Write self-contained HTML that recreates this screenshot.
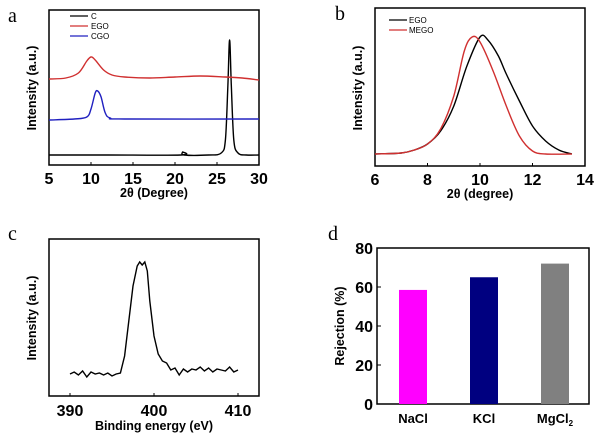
<!DOCTYPE html>
<html><head><meta charset="utf-8"><style>
body{margin:0;background:#fff}
svg{display:block;font-family:"Liberation Sans",Arial,sans-serif}
.tk{font-size:16px;font-weight:bold}
.tt{font-size:12.5px;font-weight:bold}
.pl{font-family:"Liberation Serif",serif;font-size:20px}
.lg{font-size:8px}
</style></head><body>
<svg id="s" width="600" height="439" viewBox="0 0 600 439"></svg>
<script>
// Panel a data
const aTicks=[5,10,15,20,25,30];
const aC=[[5,10],[12,10],[20.7,10],[20.9,13],[21.1,10],[24,10],[25.5,12],[26,25],[26.3,80],[26.5,125],[26.7,80],[27,25],[27.5,12],[28.5,10],[30,10]];
const aEGO=[[5,86],[7,87],[8.5,92],[9.5,104],[10,108],[10.5,105],[11.5,95],[12.5,90],[14,88],[17,87],[20,88],[23,89],[26,88],[28,87],[30,85]];
const aCGO=[[5,45],[8,46],[9.5,48],[10,56],[10.5,72],[10.8,74],[11.2,68],[11.7,52],[12.3,47],[14,46],[30,46]];
// Panel b data
const bTicks=[6,8,10,12,14];
const bEGO=[[6,12],[7,13],[7.5,16],[8,22],[8.5,35],[9,60],[9.5,100],[10,129],[10.3,126],[10.7,110],[11,92],[11.5,65],[12,40],[12.5,25],[13,16],[13.5,12]];
const bMEGO=[[6,12],[7,13],[7.5,16],[8,22],[8.5,37],[9,70],[9.4,115],[9.7,129],[10,124],[10.5,95],[11,60],[11.5,30],[12,15],[12.5,12],[13.5,12]];
// Panel c data
const cTicks=[390,400,410];
const cXPS=[[390,22],[390.5,24],[391,21],[391.5,25],[392,19],[392.5,24],[393,22],[393.5,23],[394,21],[394.5,23],[395,20],[395.5,22],[396,23],[396.5,40],[397,75],[397.5,110],[398,130],[398.3,134],[398.6,131],[398.9,134],[399.2,125],[399.5,95],[400,60],[400.5,42],[401,35],[401.5,33],[402,26],[402.5,28],[403,21],[403.5,27],[404,24],[404.5,27],[405,26],[405.5,29],[406,25],[406.5,28],[407,24],[407.5,27],[408,26],[408.5,25],[409,29],[409.5,24],[410,26]];
// Panel d data
const dCats=["NaCl","KCl","MgCl"];
const dVals=[58.5,65,72];
const dColors=["#ff00ff","#000080","#808080"];
const dTicks=[0,20,40,60,80];

const S=document.getElementById('s');const NS='http://www.w3.org/2000/svg';
function el(t,a,txt){const e=document.createElementNS(NS,t);for(const k in a)e.setAttribute(k,a[k]);if(txt!=null)e.textContent=txt;S.appendChild(e);return e;}
function lin(d0,d1,r0,r1){return v=>r0+(v-d0)/(d1-d0)*(r1-r0);}
function box(x0,y0,x1,y1,name){const r=el('rect',{x:x0,y:y0,width:x1-x0,height:y1-y0,fill:'none',stroke:'#000','stroke-width':1.5});}
function path(pts,X,Y,col,name,smooth){const P=pts.map(p=>[X(p[0]),Y(p[1])]);let d='M'+P[0][0].toFixed(1)+','+P[0][1].toFixed(1);
for(let i=1;i<P.length;i++){if(smooth){const p0=P[i-2]||P[i-1],p1=P[i-1],p2=P[i],p3=P[i+1]||P[i];const t=6;
d+='C'+(p1[0]+(p2[0]-p0[0])/t).toFixed(1)+','+(p1[1]+(p2[1]-p0[1])/t).toFixed(1)+' '+(p2[0]-(p3[0]-p1[0])/t).toFixed(1)+','+(p2[1]-(p3[1]-p1[1])/t).toFixed(1)+' '+p2[0].toFixed(1)+','+p2[1].toFixed(1);}else d+='L'+P[i][0].toFixed(1)+','+P[i][1].toFixed(1);}
const p=el('path',{d:d,fill:'none',stroke:col,'stroke-width':1.4});}
function txt(x,y,s,cls,name,anchor,rot){const a={x:x,y:y,class:cls,'text-anchor':anchor||'middle'};if(rot)a.transform='rotate(-90 '+x+' '+y+')';const t=el('text',a,s);return t;}
function xticks(ticks,X,yb,ly,name){ticks.forEach(v=>{const l=el('line',{x1:X(v),x2:X(v),y1:yb,y2:yb-3,stroke:'#000'});txt(X(v),ly,String(v),'tk',name+'-tick-label');});}

// Panel a
{const X=lin(5,30,49,259),Y=lin(0,165,165,0);
box(49,10,259,165,'panel-a-plot-area');
path(aC,X,Y,'#000','series-c',true);path(aEGO,X,Y,'#d03030','series-ego',true);path(aCGO,X,Y,'#2020c0','series-cgo',true);
xticks(aTicks,X,165,184,'panel-a-x');
txt(154,197,'2θ (Degree)','tt','panel-a-x-title');
txt(36,88,'Intensity (a.u.)','tt','panel-a-y-title','middle',true);
txt(8,22,'a','pl','panel-a-label','start');
[['C','#000'],['EGO','#d03030'],['CGO','#2020c0']].forEach((e,i)=>{const y=16+i*10;const l=el('line',{x1:70,x2:88,y1:y,y2:y,stroke:e[1],'stroke-width':1.3});txt(91,y+3,e[0],'lg','legend-entry-'+e[0].toLowerCase(),'start');});}

// Panel b
{const X=lin(6,14,375,585),Y=lin(0,166,166,0);
box(375,8,585,166,'panel-b-plot-area');
path(bEGO,X,Y,'#000','series-ego-b',true);path(bMEGO,X,Y,'#d03030','series-mego',true);
xticks(bTicks,X,166,185,'panel-b-x');
txt(480,198,'2θ (degree)','tt','panel-b-x-title');
txt(362,88,'Intensity (a.u.)','tt','panel-b-y-title','middle',true);
txt(335,20,'b','pl','panel-b-label','start');
[['EGO','#000'],['MEGO','#d03030']].forEach((e,i)=>{const y=20+i*10;const l=el('line',{x1:389,x2:407,y1:y,y2:y,stroke:e[1],'stroke-width':1.3});txt(409,y+3,e[0],'lg','legend-entry-b-'+e[0].toLowerCase(),'start');});}

// Panel c
{const X=lin(390,410,70,238),Y=lin(0,157,396,239);
box(49,239,259,396,'panel-c-plot-area');
path(cXPS,X,Y,'#000','series-xps',false);
xticks(cTicks,X,396,416,'panel-c-x');
txt(154,430,'Binding energy (eV)','tt','panel-c-x-title');
txt(36,318,'Intensity (a.u.)','tt','panel-c-y-title','middle',true);
txt(8,240,'c','pl','panel-c-label','start');}

// Panel d
{const Y=lin(0,80,404,248),cx=[413,484,555];
box(377,248,589,404,'panel-d-plot-area');
dVals.forEach((v,i)=>{const r=el('rect',{x:cx[i]-14,y:Y(v),width:28,height:Y(0)-Y(v),fill:dColors[i]});
const t=txt(cx[i],423,dCats[i],'tt','category-label-'+dCats[i].toLowerCase());t.style.fontSize='13px';
if(i==2){const s=document.createElementNS(NS,'tspan');s.setAttribute('dy','3');s.setAttribute('font-size','8');s.textContent='2';t.appendChild(s);}});
dTicks.forEach(v=>{const l=el('line',{x1:377,x2:381,y1:Y(v),y2:Y(v),stroke:'#000'});txt(373,Y(v)+6,String(v),'tk','panel-d-y-tick-label','end');});
txt(344,326,'Rejection (%)','tt','panel-d-y-title','middle',true);
txt(328,240,'d','pl','panel-d-label','start');}
</script>
</body></html>
